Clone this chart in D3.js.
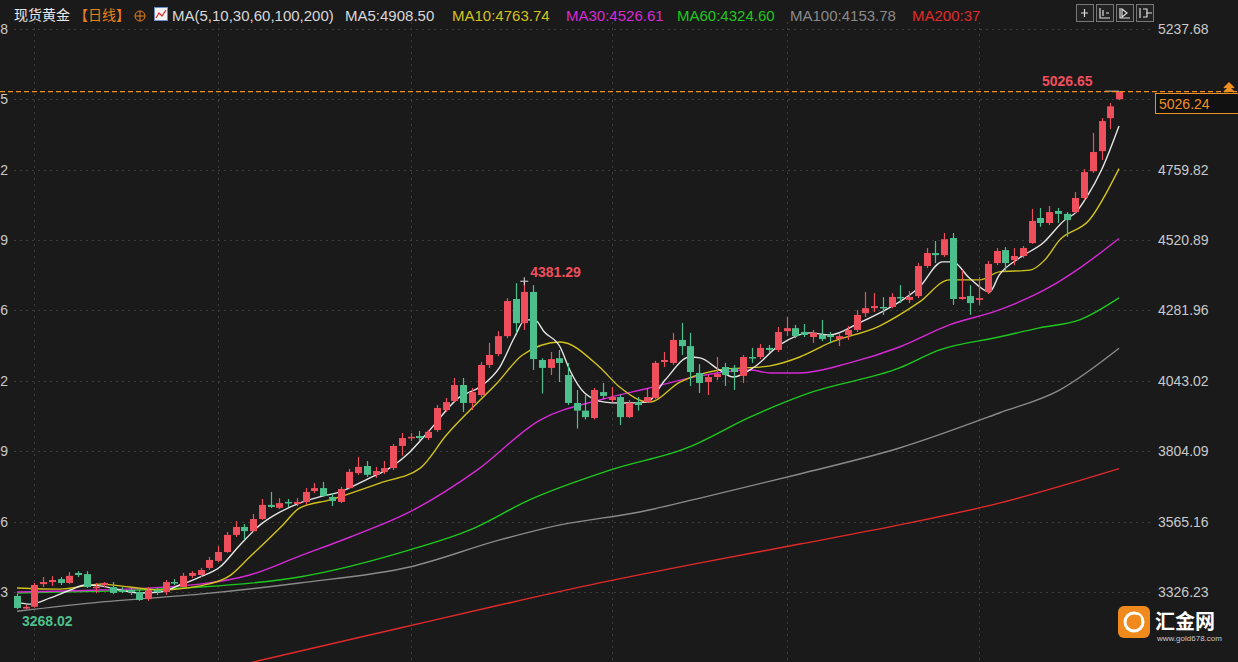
<!DOCTYPE html>
<html>
<head>
<meta charset="utf-8">
<script src="https://cdn.jsdelivr.net/npm/d3@7/dist/d3.min.js"></script>
<style>
  html, body { margin: 0; padding: 0; background: #1a1a1a; }
  svg { display: block; }
</style>
</head>
<body>
<svg id="chart" width="1238" height="662"></svg>
<script>
// daily candles: [open, high, low, close]
const candles = [
  [3313,3320,3268.02,3272],[3270,3282,3268.5,3276],[3276,3357,3273,3350],[3353,3377,3343,3360],
  [3360,3380,3347,3367],[3370,3377,3350,3357],[3357,3394,3353,3381],[3391,3397,3377,3384],
  [3387,3397,3340,3343],[3340,3357,3322,3344],[3350,3360,3343,3357],[3343,3360,3319,3323],
  [3333,3343,3323,3326],[3333,3343,3316,3326],[3326,3340,3296,3299],[3302,3343,3296,3333],
  [3333,3340,3316,3326],[3326,3367,3316,3360],[3360,3370,3350,3357],[3343,3391,3340,3381],
  [3381,3397,3374,3391],[3384,3408,3377,3401],[3408,3445,3401,3435],[3432,3482,3428,3462],
  [3462,3530,3459,3520],[3520,3567,3513,3547],[3547,3557,3503,3533],[3533,3591,3530,3574],
  [3574,3642,3571,3622],[3622,3666,3611,3615],[3612,3645,3608,3628],[3632,3642,3615,3628],
  [3625,3645,3618,3632],[3632,3679,3622,3666],[3669,3696,3662,3679],[3679,3700,3649,3652],
  [3649,3662,3618,3635],[3632,3683,3628,3676],[3679,3744,3676,3734],[3730,3785,3724,3751],
  [3754,3771,3717,3724],[3724,3751,3714,3737],[3734,3771,3727,3747],[3747,3829,3740,3822],
  [3822,3866,3789,3849],[3849,3866,3839,3853],[3856,3873,3839,3849],[3849,3876,3842,3870],
  [3876,3961,3870,3951],[3944,3985,3937,3971],[3975,4053,3971,4029],[4029,4053,3937,3968],
  [3968,4019,3944,4005],[3995,4107,3988,4097],[4097,4172,4087,4131],[4134,4212,4127,4195],
  [4195,4324,4188,4314],[4321,4375,4205,4239],[4239,4381.29,4216,4345],[4345,4368,4080,4117],
  [4114,4120,4000,4087],[4087,4141,4063,4117],[4120,4148,4039,4104],[4063,4104,3961,3968],
  [3968,4012,3881,3942],[3942,3995,3912,3920],[3917,4019,3912,4012],[4005,4036,3981,3992],
  [3978,4022,3971,3988],[3988,3995,3893,3920],[3920,3978,3917,3968],[3971,3988,3942,3961],
  [3971,4019,3968,3988],[3985,4111,3981,4104],[4107,4141,4090,4114],[4104,4206,4097,4182],
  [4182,4240,4131,4161],[4161,4206,4026,4073],[4070,4100,4002,4036],[4039,4063,3995,4056],
  [4056,4124,4046,4066],[4090,4104,4026,4063],[4087,4097,4012,4073],[4060,4131,4036,4124],
  [4124,4155,4104,4120],[4124,4168,4117,4155],[4155,4165,4138,4148],[4148,4226,4141,4209],
  [4212,4260,4195,4222],[4222,4233,4188,4195],[4209,4236,4192,4199],[4192,4216,4172,4206],
  [4199,4250,4178,4185],[4199,4209,4172,4192],[4185,4206,4161,4195],[4199,4229,4182,4216],
  [4216,4284,4209,4267],[4273,4345,4260,4290],[4290,4341,4277,4297],[4294,4327,4267,4290],
  [4294,4341,4290,4328],[4328,4368,4307,4324],[4318,4348,4307,4328],[4331,4443,4324,4433],
  [4433,4494,4426,4477],[4477,4518,4443,4470],[4470,4545,4464,4524],[4528,4545,4301,4321],
  [4321,4420,4318,4328],[4331,4368,4267,4307],[4318,4395,4301,4324],[4345,4450,4338,4440],
  [4443,4494,4436,4484],[4487,4497,4413,4443],[4453,4494,4436,4467],[4467,4501,4460,4494],
  [4511,4627,4508,4586],[4596,4630,4566,4579],[4579,4637,4572,4616],[4620,4630,4579,4610],
  [4610,4616,4532,4589],[4616,4684,4610,4664],[4664,4762,4657,4752],[4755,4885,4749,4820],
  [4823,4935,4793,4925],[4935,4986,4898,4975],[4999,5026.65,4996,5026.24]
];

// moving averages: [candle index, value]
const ma5 = [[0,3292],[1.5,3285],[3.8,3306],[6.1,3333],[7.8,3350],[9.5,3347],[11.8,3333],[14.1,3323],
  [16.3,3326],[18.6,3350],[20.9,3377],[23.2,3411],[25.5,3486],[27.8,3554],[30.1,3598],[32.3,3628],
  [34.6,3649],[36.9,3666],[40.3,3713],[42.6,3747],[44.9,3801],[46.9,3866],[50.6,3988],[52.9,4022],
  [55.2,4090],[56.9,4192],[58.1,4250],[59.2,4250],[60.3,4209],[62.1,4158],[63.2,4080],[64.9,4002],
  [67.2,3971],[68.9,3968],[72.0,3971],[74.1,4046],[76.9,4124],[78.1,4121],[80.3,4080],[81.9,4056],
  [84.3,4090],[87.2,4165],[90.6,4206],[92.9,4199],[96.3,4240],[98.6,4273],[100.9,4311],[103.2,4362],
  [105.8,4447],[107.0,4447],[108.9,4392],[111.2,4345],[112.3,4402],[114.6,4460],[117.3,4511],
  [119.8,4589],[121.1,4616],[122.3,4667],[124.0,4759],[126,4908.5]];
const ma10 = [[0,3340],[4.9,3336],[9.5,3353],[12.9,3343],[16.3,3333],[20.9,3347],[24.3,3381],[26.6,3445],
  [30.4,3554],[32.3,3611],[35.8,3639],[41.5,3696],[46.1,3747],[49.1,3859],[51.8,3944],[54.9,4036],
  [57.8,4131],[62.1,4175],[66.6,4090],[68.9,4022],[72.3,3971],[75.8,4039],[80.3,4080],[86.1,4094],
  [89.5,4124],[92.9,4172],[98.6,4229],[103.2,4311],[106.6,4386],[110.1,4386],[112.3,4413],
  [115.8,4419],[117.5,4453],[119.2,4521],[122.6,4589],[126,4763.74]];
const ma30 = [[0,3326],[9.5,3333],[20.9,3353],[26.6,3384],[32.3,3448],[38.1,3513],[44.9,3598],
  [52.6,3740],[59.8,3910],[66.6,3978],[72.3,4019],[78.1,4060],[83.8,4080],[86.1,4070],[89.5,4070],
  [95.2,4104],[100.9,4158],[106.6,4233],[112.3,4284],[118.1,4362],[121.5,4426],[126,4526.61]];
const ma60 = [[0,3323],[20.9,3343],[32.3,3377],[44.9,3469],[51.8,3537],[58.6,3639],[67.8,3740],
  [76.9,3819],[83.8,3920],[90.6,4002],[100.9,4087],[105.5,4148],[112.3,4192],[116.9,4223],
  [121.5,4250],[126,4324.6]];
const ma100 = [[0,3261],[9.5,3292],[20.9,3319],[32.3,3357],[44.9,3411],[55.2,3503],[62.1,3554],
  [71.2,3598],[78.1,3645],[89.5,3727],[100.9,3815],[112.3,3934],[119.2,4012],[126,4153.78]];
const ma200 = [[20.9,3044],[27.5,3092],[43.8,3204],[55.2,3282],[66.6,3357],[78.1,3425],[89.5,3489],
  [100.9,3554],[112.3,3628],[126,3745]];

const priceTicks = [5237.68, 4998.75, 4759.82, 4520.89, 4281.96, 4043.02, 3804.09, 3565.16, 3326.23];
const monthLines = [2, 23, 45, 68, 88, 110];

const maSeries = [
  { name: "MA5", data: ma5, color: "#e6e6e6", label: "MA5:4908.50", lx: 345 },
  { name: "MA10", data: ma10, color: "#d2c21c", label: "MA10:4763.74", lx: 452 },
  { name: "MA30", data: ma30, color: "#d62ad6", label: "MA30:4526.61", lx: 566 },
  { name: "MA60", data: ma60, color: "#1ec81e", label: "MA60:4324.60", lx: 677 },
  { name: "MA100", data: ma100, color: "#8a8a8a", label: "MA100:4153.78", lx: 790 },
  { name: "MA200", data: ma200, color: "#e02a2a", label: "MA200:37", lx: 912 }
];

const UP = "#ef4f5c", DOWN = "#4cbf8c";
const NUM_FONT = "'Liberation Sans', Arial, sans-serif";
const CJK_FONT = "'Noto Sans CJK SC', sans-serif";

let svg = d3.select("#chart");
svg.append("rect").attr("width", 1238).attr("height", 662).attr("fill", "#1a1a1a");

let x = d3.scaleLinear().domain([0, candles.length - 1]).range([17, 1119]);
let y = d3.scaleLinear().domain([3326.23, 5237.68]).range([592, 29]);

svg.append("clipPath").attr("id", "plot")
    .append("rect").attr("x", 0).attr("y", 22).attr("width", 1150).attr("height", 640);

// grid
let grid = svg.append("g");
grid.selectAll(".h").data(priceTicks).enter().append("line")
    .attr("x1", 14).attr("x2", 1150)
    .attr("y1", d => Math.round(y(d)) + 0.5).attr("y2", d => Math.round(y(d)) + 0.5)
    .attr("stroke", "#3c3c3c").attr("stroke-dasharray", "2 4");
grid.selectAll(".v").data(monthLines).enter().append("line")
    .attr("x1", d => Math.round(x(d)) + 0.5).attr("x2", d => Math.round(x(d)) + 0.5)
    .attr("y1", 22).attr("y2", 662)
    .attr("stroke", "#3c3c3c").attr("stroke-dasharray", "2 4");

// axes labels (left axis is clipped at the window edge, as in the app)
svg.append("g").selectAll("text").data(priceTicks).enter().append("text")
    .attr("x", 1158).attr("y", d => y(d) + 5)
    .attr("fill", "#c9c9c9").attr("font-size", 14).attr("font-family", NUM_FONT)
    .text(d => d.toFixed(2));
svg.append("g").selectAll("text").data(priceTicks).enter().append("text")
    .attr("x", 8).attr("y", d => y(d) + 5).attr("text-anchor", "end")
    .attr("fill", "#c9c9c9").attr("font-size", 14).attr("font-family", NUM_FONT)
    .text(d => d.toFixed(2));

let plot = svg.append("g").attr("clip-path", "url(#plot)");

// moving averages
let line = d3.line()
    .x(d => x(d[0]))
    .y(d => y(d[1]))
    .curve(d3.curveMonotoneX);
maSeries.slice().reverse().forEach(s => {
    plot.append("path")
        .datum(s.data)
        .attr("fill", "none")
        .attr("stroke", s.color)
        .attr("stroke-width", 1.4)
        .attr("d", line);
});

// candles
let bw = 7;
let c = plot.selectAll(".candle").data(candles).enter().append("g");
c.append("line")
    .attr("x1", (d, i) => Math.round(x(i)) + 0.5).attr("x2", (d, i) => Math.round(x(i)) + 0.5)
    .attr("y1", d => y(d[1])).attr("y2", d => y(d[2]))
    .attr("stroke", d => d[3] >= d[0] ? UP : DOWN).attr("stroke-width", 1.2);
c.append("rect")
    .attr("x", (d, i) => Math.round(x(i)) + 0.5 - bw / 2)
    .attr("y", d => y(Math.max(d[0], d[3])))
    .attr("width", bw)
    .attr("height", d => Math.max(1.5, Math.abs(y(d[0]) - y(d[3]))))
    .attr("fill", d => d[3] >= d[0] ? UP : DOWN);

// high / low markers
let hi = candles[58], lo = candles[0], last = candles[candles.length - 1];
svg.append("text").attr("x", x(58) + 6).attr("y", y(hi[1]) - 4)
    .attr("fill", UP).attr("font-size", 14).attr("font-weight", "bold").attr("font-family", NUM_FONT)
    .text(hi[1].toFixed(2));
svg.append("path").attr("d", `M${x(58) - 4},${y(hi[1])}h8M${x(58)},${y(hi[1]) - 4}v8`)
    .attr("stroke", "#ddd");
svg.append("text").attr("x", x(0) + 5).attr("y", y(lo[2]) + 17)
    .attr("fill", DOWN).attr("font-size", 14).attr("font-weight", "bold").attr("font-family", NUM_FONT)
    .text(lo[2].toFixed(2));
svg.append("text").attr("x", x(126) - 77).attr("y", y(last[1]) - 5)
    .attr("fill", UP).attr("font-size", 14).attr("font-weight", "bold").attr("font-family", NUM_FONT)
    .text(last[1].toFixed(2));
svg.append("path").attr("d", `M${x(126) - 14},${y(last[1])}h14`).attr("stroke", "#ccc");

// current price line and box
svg.append("line").attr("x1", 0).attr("x2", 1238)
    .attr("y1", y(last[1]) + 0.5).attr("y2", y(last[1]) + 0.5)
    .attr("stroke", "#f0901e").attr("stroke-width", 1.3).attr("stroke-dasharray", "5 3");
svg.append("rect").attr("x", 1155.5).attr("y", 93.5).attr("width", 90).attr("height", 20)
    .attr("fill", "#111").attr("stroke", "#f0901e");
svg.append("text").attr("x", 1159).attr("y", 109)
    .attr("fill", "#f0901e").attr("font-size", 14).attr("font-family", NUM_FONT)
    .text(last[3].toFixed(2));
svg.append("path").attr("d", "M1224,88l5,-5l5,5M1224,92l5,-5l5,5").attr("fill", "#f0901e")
    .attr("stroke", "#f0901e").attr("stroke-width", 1.5);

// header
let hdr = svg.append("g").attr("font-size", 15);
hdr.append("text").attr("x", 14).attr("y", 20).attr("fill", "#e8e8e8").attr("font-size", 14).attr("font-family", CJK_FONT).text("现货黄金");
hdr.append("text").attr("x", 74).attr("y", 20).attr("fill", "#e8801e").attr("font-size", 14).attr("font-family", CJK_FONT).text("【日线】");
hdr.append("circle").attr("cx", 140).attr("cy", 16).attr("r", 5).attr("fill", "none").attr("stroke", "#e8801e");
hdr.append("path").attr("d", "M135,16h10M140,11v10").attr("stroke", "#e8801e");
hdr.append("rect").attr("x", 154.5).attr("y", 7.5).attr("width", 13).attr("height", 13).attr("fill", "#f4f4f4").attr("stroke", "#6a8ccc");
hdr.append("path").attr("d", "M156,18l3,-5l3,3l4,-6").attr("fill", "none").attr("stroke", "#e03030").attr("stroke-width", 1.3);
hdr.append("text").attr("x", 172).attr("y", 21).attr("fill", "#d8d8d8").attr("font-family", NUM_FONT).text("MA(5,10,30,60,100,200)");
maSeries.forEach(s => {
    hdr.append("text").attr("x", s.lx).attr("y", 21).attr("fill", s.name === "MA5" ? "#d8d8d8" : s.color)
        .attr("font-family", NUM_FONT).text(s.label);
});

// toolbar buttons
let tb = svg.append("g");
[1076, 1096, 1116, 1136].forEach((bx, k) => {
    tb.append("rect").attr("x", bx + 0.5).attr("y", 4.5).attr("width", 17).attr("height", 17)
        .attr("fill", "#222").attr("stroke", "#777");
    let p = ["M1081,13h7M1084.5,9v8", "M1100,8v10h10M1103,10v6M1106,13h3", "M1120,8v10h10M1122,9l5,4l-5,4z", "M1140,8v10M1143,9h4v8h-4M1146,13h6"][k];
    tb.append("path").attr("d", p).attr("fill", "none").attr("stroke", "#ddd").attr("stroke-width", 1.2);
});

// logo
let lg = svg.append("g");
lg.append("rect").attr("x", 1118).attr("y", 606).attr("width", 32).attr("height", 32).attr("rx", 6).attr("fill", "#f08a1c");
lg.append("circle").attr("cx", 1134).attr("cy", 622).attr("r", 9).attr("fill", "none").attr("stroke", "#fff").attr("stroke-width", 3);
lg.append("circle").attr("cx", 1137).attr("cy", 619).attr("r", 4).attr("fill", "#f08a1c");
lg.append("text").attr("x", 1155).attr("y", 629).attr("fill", "#fff").attr("font-size", 20).attr("font-weight", "bold")
    .attr("font-family", CJK_FONT).text("汇金网");
lg.append("text").attr("x", 1157).attr("y", 641).attr("fill", "#ccc").attr("font-size", 8)
    .attr("font-family", NUM_FONT).text("www.gold678.com");
</script>
</body>
</html>
